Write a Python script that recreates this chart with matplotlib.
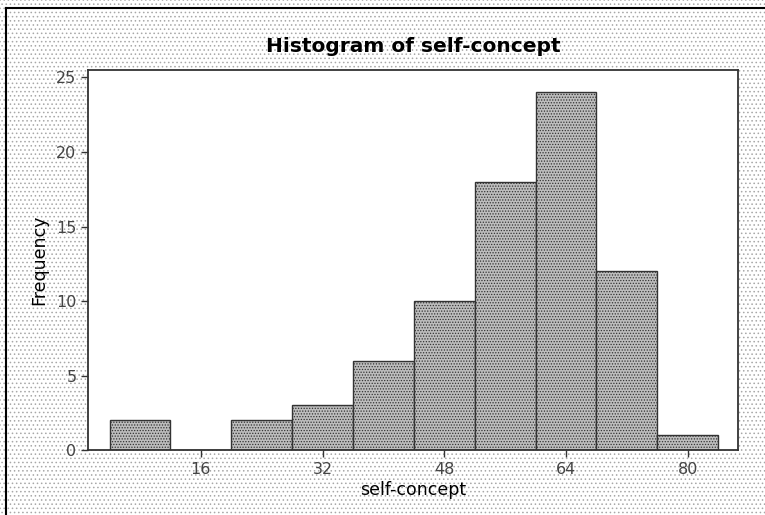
import matplotlib.pyplot as plt
from matplotlib.patches import Rectangle
from matplotlib.lines import Line2D

# bin edges and counts
bin_left = [4, 12, 20, 28, 36, 44, 52, 60, 68, 76]
counts = [2, 0, 2, 3, 6, 10, 18, 24, 12, 1]
bin_width = 8
x_ticks = [16, 32, 48, 64, 80]
y_ticks = [0, 5, 10, 15, 20, 25]

plt.rcParams["hatch.linewidth"] = 0.6

fig = plt.figure(figsize=(7.65, 5.15), dpi=100)
fig.patch.set_facecolor("white")

# stippled page background
bg = Rectangle((0.0, 0.0), 1.0, 1.0, transform=fig.transFigure,
               facecolor="white", edgecolor="#a8a8a8", hatch="....",
               linewidth=0, zorder=-10)
fig.patches.append(bg)
# frame only shows on the left and top edges
fig.add_artist(Line2D([0.0075, 0.0075], [0.0, 0.985], color="black", lw=1.5,
                      transform=fig.transFigure))
fig.add_artist(Line2D([0.0075, 1.0], [0.985, 0.985], color="black", lw=1.5,
                      transform=fig.transFigure))

ax = fig.add_axes([0.1155, 0.126, 0.849, 0.738])
ax.set_facecolor("white")

plt.rcParams["hatch.color"] = "#555555"
ax.bar(bin_left, counts, width=bin_width, align="edge",
       facecolor="#bdbdbd", edgecolor="#333333", linewidth=1.0,
       hatch="......")

ax.set_xlim(1.2, 86.6)
ax.set_ylim(0, 25.5)
ax.set_xticks(x_ticks)
ax.set_yticks(y_ticks)
ax.tick_params(direction="out", length=5, width=1, color="#333333",
               labelsize=11.5, labelcolor="#444444")

for s in ax.spines.values():
    s.set_color("#333333")
    s.set_linewidth(1.3)

ax.set_title("Histogram of self-concept", fontsize=14.5, fontweight="bold", pad=13)
ax.set_xlabel("self-concept", fontsize=12.5, labelpad=3)
ax.set_ylabel("Frequency", fontsize=12.5, labelpad=6)

fig.savefig("out.png", dpi=100)
